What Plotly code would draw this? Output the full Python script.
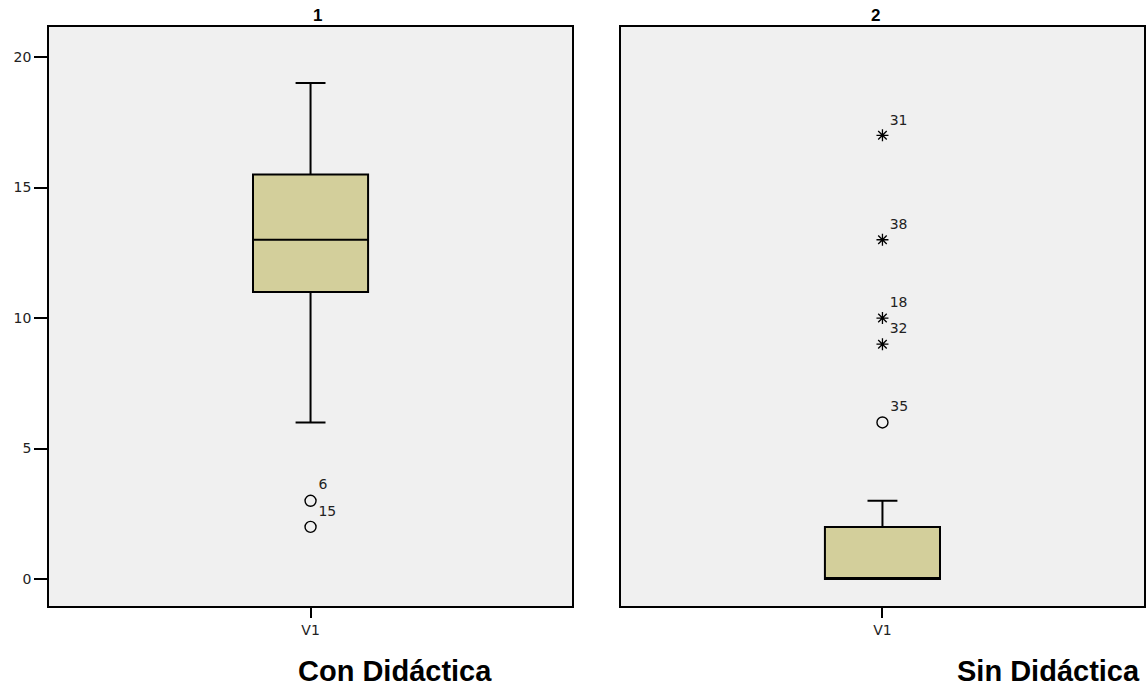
import plotly.graph_objects as go

# ---- data ----
groups = ["Con Didáctica", "Sin Didáctica"]
panel_titles = ["1", "2"]
category = ["V1"]

# box statistics per group
q1 = [11, 0]
median = [13, 0]
q3 = [15.5, 2]
lower_whisker = [6, 0]
upper_whisker = [19, 3]

# outliers (circle) and extremes (star) with case labels
g1_out_vals = [3, 2]
g1_out_labels = ["6", "15"]
g1_ext_vals = []
g1_ext_labels = []

g2_out_vals = [6]
g2_out_labels = ["35"]
g2_ext_vals = [17, 13, 10, 9]
g2_ext_labels = ["31", "38", "18", "32"]

y_ticks = [0, 5, 10, 15, 20]

SMALL = "DejaVu Sans, Verdana, sans-serif"
BIG = "Liberation Sans, Arial, sans-serif"
BOX_FILL = "#D3CF9B"

fig = go.Figure()

outs = [(g1_out_vals, g1_out_labels, g1_ext_vals, g1_ext_labels),
        (g2_out_vals, g2_out_labels, g2_ext_vals, g2_ext_labels)]

for i in range(2):
    xa = "x" if i == 0 else "x2"
    ya = "y" if i == 0 else "y2"
    fig.add_trace(go.Box(
        x=category, q1=[q1[i]], median=[median[i]], q3=[q3[i]],
        lowerfence=[lower_whisker[i]], upperfence=[upper_whisker[i]],
        boxpoints=False, width=0.22, whiskerwidth=0.26,
        fillcolor=BOX_FILL, line=dict(color="black", width=2),
        xaxis=xa, yaxis=ya, showlegend=False, hoverinfo="skip",
    ))
    ov, ol, ev, el = outs[i]
    if ov:
        fig.add_trace(go.Scatter(
            x=category * len(ov), y=ov, text=ol, mode="markers+text",
            textposition="top right",
            textfont=dict(family=SMALL, size=14, color="#222"),
            marker=dict(symbol="circle-open", size=11, color="black",
                        line=dict(width=1.4, color="black")),
            xaxis=xa, yaxis=ya, showlegend=False, hoverinfo="skip",
        ))
    if ev:
        fig.add_trace(go.Scatter(
            x=category * len(ev), y=ev, text=el, mode="markers+text",
            textposition="top right",
            textfont=dict(family=SMALL, size=14, color="#222"),
            marker=dict(symbol="asterisk-open", size=10, color="black",
                        line=dict(width=1.3, color="black")),
            xaxis=xa, yaxis=ya, showlegend=False, hoverinfo="skip",
        ))

base_axis = dict(
    showline=True, linecolor="black", linewidth=1.5, mirror=True,
    showgrid=False, zeroline=False, tickcolor="black", tickwidth=1.5,
    tickfont=dict(family=SMALL, size=14, color="#222"),
)

D1 = [0, 0.4777]
D2 = [0.5223, 1.0]
YR = [-1.03, 21.15]

fig.update_layout(
    width=1148, height=687,
    margin=dict(l=49, r=2, t=27, b=81),
    paper_bgcolor="white", plot_bgcolor="#F0F0F0",
    font=dict(family=SMALL, color="black"),
    xaxis=dict(domain=D1, type="category", range=[-0.5, 0.5], anchor="y",
               ticks="outside", ticklen=10, **base_axis),
    yaxis=dict(domain=[0, 1], range=YR, tickvals=y_ticks, anchor="x",
               ticks="outside", ticklen=13, **base_axis),
    xaxis2=dict(domain=D2, type="category", range=[-0.5, 0.5], anchor="y2",
                ticks="outside", ticklen=10, **base_axis),
    yaxis2=dict(domain=[0, 1], range=YR, tickvals=y_ticks, anchor="x2",
                showticklabels=False, ticks="", **base_axis),
)

annotations = [
    dict(text="<b>" + panel_titles[0] + "</b>", x=sum(D1) / 2, y=1, xref="paper", yref="paper",
         yanchor="bottom", yshift=0, showarrow=False, font=dict(family=BIG, size=17)),
    dict(text="<b>" + panel_titles[1] + "</b>", x=sum(D2) / 2, y=1, xref="paper", yref="paper",
         yanchor="bottom", yshift=0, showarrow=False, font=dict(family=BIG, size=17)),
    dict(text="<b>" + groups[0] + "</b>", x=sum(D1) / 2, y=0, xref="paper", yref="paper",
         xshift=-15, yanchor="middle", yshift=-65, showarrow=False, font=dict(family=BIG, size=29)),
    dict(text="<b>" + groups[1] + "</b>", x=1.0, y=0, xref="paper", yref="paper",
         xanchor="right", xshift=-2, yanchor="middle", yshift=-65, showarrow=False,
         font=dict(family=BIG, size=29)),
]
fig.update_layout(annotations=annotations)

fig.write_html("out.html", config={"displayModeBar": False},
               post_script="document.body.style.margin='0';")
